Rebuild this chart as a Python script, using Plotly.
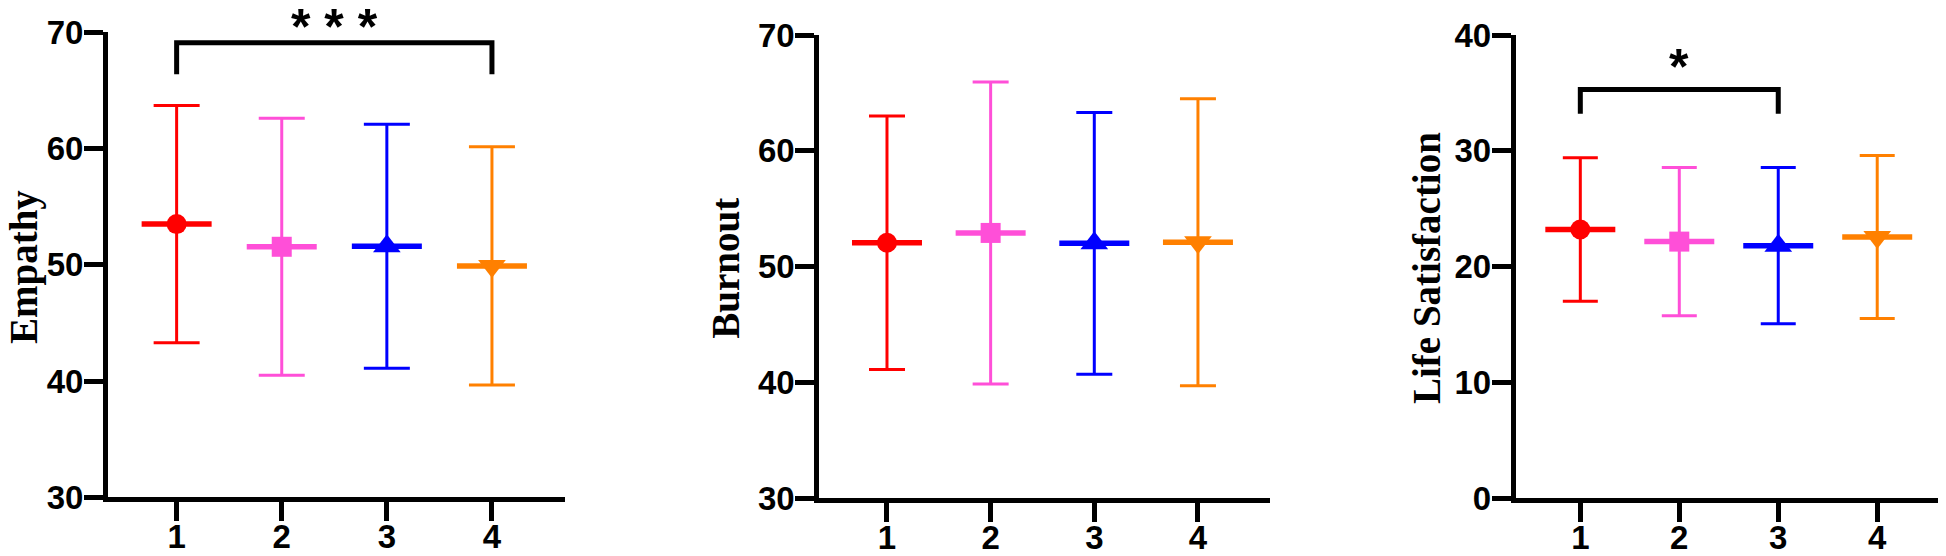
import plotly.graph_objects as go

# groups on the x axis
groups = [1, 2, 3, 4]
colors = ['#FF0000', '#FF4FD8', '#0000FF', '#FF8000']
symbols = ['circle', 'square', 'triangle-up', 'triangle-down']

# mean and SD per group
empathy_mean = [53.5, 51.55, 51.6, 49.9]
empathy_sd = [10.2, 11.05, 10.5, 10.25]
burnout_mean = [52.05, 52.9, 52.0, 52.1]
burnout_sd = [10.95, 13.05, 11.3, 12.4]
life_mean = [23.2, 22.15, 21.8, 22.55]
life_sd = [6.2, 6.4, 6.75, 7.05]

# y axis ticks per panel
empathy_ticks = [30, 40, 50, 60, 70]
burnout_ticks = [30, 40, 50, 60, 70]
life_ticks = [0, 10, 20, 30, 40]

# significance brackets: (from group, to group, leg bottom, top, label)
empathy_sig = (1, 4, 66.4, 69.1, '* * *')
life_sig = (1, 3, 33.2, 35.3, '*')

# the page body has an 8px margin, so the figure is laid out 8px smaller
# and positions (in page pixels of a 1946x556 view) are shifted by it
OFF = 8
W, H = 1946 - OFF, 556 - OFF


def fx(px):
    return (px - OFF) / W


def fy(py):
    return 1 - (py - OFF) / H


panels = [
    dict(mean=empathy_mean, sd=empathy_sd, ticks=empathy_ticks, title='Empathy',
         xdom=[fx(108), fx(565)], ydom=[fy(497.3), fy(32.3)],
         cap=23, sig=empathy_sig, star_shift=16, tx=24, ty=267),
    dict(mean=burnout_mean, sd=burnout_sd, ticks=burnout_ticks, title='Burnout',
         xdom=[fx(819.3), fx(1270)], ydom=[fy(498), fy(35)],
         cap=18, sig=None, star_shift=0, tx=726, ty=268.7),
    dict(mean=life_mean, sd=life_sd, ticks=life_ticks, title='Life Satisfaction',
         xdom=[fx(1515.7), 1.0], ydom=[fy(498), fy(35)],
         cap=17.5, sig=life_sig, star_shift=22, tx=1426, ty=268),
]

fig = go.Figure()
annotations = []
tick_font = dict(family='Liberation Sans, Arial', size=33, color='black', weight='bold')
star_font = dict(family='Liberation Sans, Arial', size=50, color='black', weight='bold')

for i, p in enumerate(panels):
    n = '' if i == 0 else str(i + 1)
    xa, ya = 'x' + n, 'y' + n
    for g in range(4):
        # error bar
        fig.add_trace(go.Scatter(
            x=[groups[g]], y=[p['mean'][g]], xaxis=xa, yaxis=ya, mode='markers',
            marker=dict(size=1, color='rgba(0,0,0,0)'),
            error_y=dict(type='data', array=[p['sd'][g]], symmetric=True,
                         color=colors[g], thickness=3, width=p['cap']),
            showlegend=False, cliponaxis=False))
        # mean line
        fig.add_trace(go.Scatter(
            x=[groups[g]], y=[p['mean'][g]], xaxis=xa, yaxis=ya, mode='markers',
            marker=dict(symbol='line-ew', size=50, line=dict(width=5.5, color=colors[g])),
            showlegend=False, cliponaxis=False))
        # marker
        fig.add_trace(go.Scatter(
            x=[groups[g]], y=[p['mean'][g]], xaxis=xa, yaxis=ya, mode='markers',
            marker=dict(symbol=symbols[g], size=20 if g < 2 else 24, color=colors[g],
                        line=dict(width=0)),
            showlegend=False, cliponaxis=False))

    if p['sig']:
        a, b, lo, hi, label = p['sig']
        fig.add_trace(go.Scatter(
            x=[a, a, b, b], y=[lo, hi, hi, lo], xaxis=xa, yaxis=ya, mode='lines',
            line=dict(color='black', width=5), showlegend=False, cliponaxis=False))
        annotations.append(dict(
            x=(a + b) / 2, y=hi, xref=xa, yref=ya, text=label, showarrow=False,
            xanchor='center', yanchor='middle', yshift=p['star_shift'], font=star_font))

    annotations.append(dict(
        x=fx(p['tx']), y=fy(p['ty']), xref='paper', yref='paper',
        xanchor='center', yanchor='middle',
        text=p['title'], textangle=-90, showarrow=False,
        font=dict(family='Liberation Serif, Times New Roman', size=39, color='black',
                  weight='bold')))

    fig.update_layout({
        'xaxis' + n: dict(domain=p['xdom'], anchor=ya, range=[0.347, 4.695],
                          tickvals=groups, ticks='outside', ticklen=19, tickwidth=5,
                          tickcolor='black', showline=True, linewidth=5, linecolor='black',
                          showgrid=False, zeroline=False, tickfont=tick_font,
                          ticklabelstandoff=-13, automargin=False),
        'yaxis' + n: dict(domain=p['ydom'], anchor=xa,
                          range=[p['ticks'][0], p['ticks'][-1]], tickvals=p['ticks'],
                          ticks='outside', ticklen=19, tickwidth=5, tickcolor='black',
                          showline=True, linewidth=5, linecolor='black',
                          showgrid=False, zeroline=False, tickfont=tick_font,
                          ticklabelstandoff=-6, automargin=False),
    })

fig.update_layout(
    width=W, height=H, margin=dict(l=0, r=0, t=0, b=0, autoexpand=False),
    paper_bgcolor='white', plot_bgcolor='white', annotations=annotations,
)

fig.write_html("out.html")
